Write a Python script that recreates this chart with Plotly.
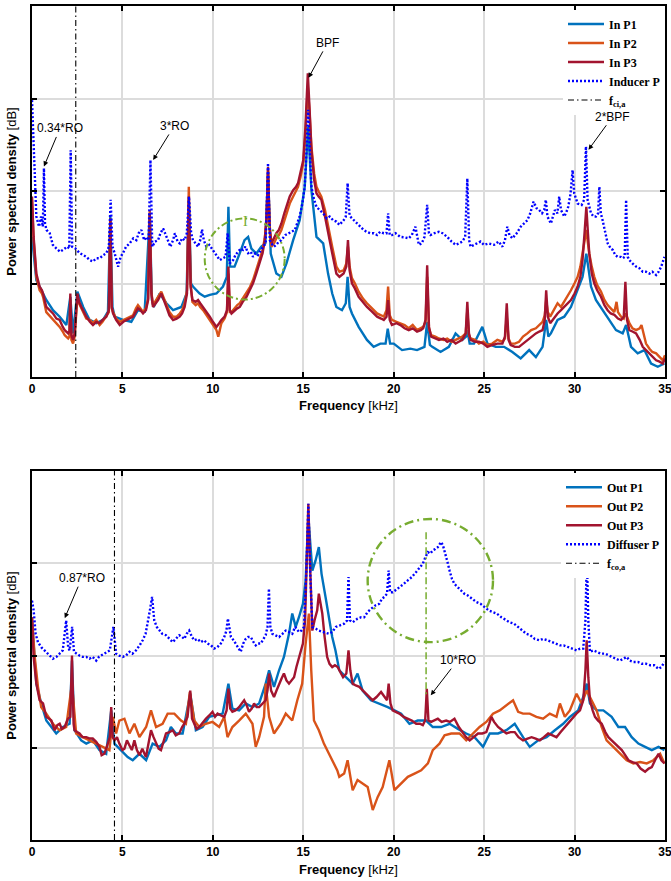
import plotly.graph_objects as go

# ---------------- Inlet (inducer) spectra ----------------
in_p1_f = [0.00, 0.24, 0.52, 0.79, 1.16, 1.53, 1.9, 2.12, 2.27, 2.51, 2.83, 3.19, 3.56, 3.93, 4.2, 4.33, 4.45, 4.57,
           5.03, 5.49, 5.86, 6.23, 6.51, 6.63, 6.73, 7.06, 7.43, 7.8, 8.26, 8.55, 8.67, 8.79, 8.9, 9.27, 9.55, 9.83,
           10.2, 10.56, 10.77, 10.86, 10.95, 11.2, 11.48, 11.75, 11.95, 12.13, 12.4, 12.68, 12.9, 13.05, 13.2, 13.51,
           13.79, 14.07, 14.44, 14.8, 15.08, 15.27, 15.45, 15.73, 16.1, 16.37, 16.6, 16.83, 17.14, 17.35, 17.45,
           17.56, 17.69, 18.06, 18.52, 18.89, 19.26, 19.55, 19.67, 19.8, 20.0, 20.46, 20.92, 21.29, 21.7, 21.85,
           22.0, 22.13, 22.59, 23.05, 23.42, 23.79, 24.0, 24.07, 24.2, 24.44, 24.9, 25.18, 25.64, 26.1, 26.56,
           27.02, 27.49, 27.86, 28.23, 28.43, 28.55, 28.69, 29.06, 29.43, 29.8, 30.17, 30.44, 30.65, 30.91, 31.18,
           31.55, 31.92, 32.29, 32.66, 32.85, 33.12, 33.49, 33.86, 34.23, 34.6, 34.97]
in_p1_db = [-89.8, -99.1, -101.3, -103.4, -105.6, -107.0, -108.8, -102.7, -110.6, -101.6, -104.9, -107.7, -108.4,
            -107.7, -105.9, -85.4, -104.9, -107.0, -107.7, -108.1, -105.6, -105.9, -85.1, -103.4, -104.9, -102.0,
            -104.1, -105.6, -104.9, -102.0, -81.8, -99.8, -100.5, -102.0, -102.7, -102.3, -102.0, -100.5, -98.4,
            -83.3, -96.2, -96.2, -93.4, -90.5, -89.8, -92.3, -93.4, -91.9, -91.2, -76.1, -93.4, -97.7, -98.4, -95.5,
            -90.5, -86.2, -79.0, -66.0, -79.7, -89.8, -91.2, -97.7, -102.0, -104.9, -105.6, -104.1, -98.4, -104.9,
            -106.3, -109.2, -112.0, -113.5, -112.8, -112.8, -109.6, -112.8, -112.8, -114.2, -113.9, -114.2, -113.5,
            -108.1, -113.1, -113.5, -114.6, -113.5, -110.6, -112.0, -111.3, -109.9, -112.8, -112.8, -109.2, -112.8,
            -113.5, -113.5, -114.6, -116.0, -114.2, -115.7, -113.5, -107.7, -111.3, -110.6, -107.7, -107.0, -104.9,
            -101.3, -98.4, -93.4, -100.5, -103.4, -105.6, -107.7, -109.9, -110.6, -108.8, -113.5, -114.9, -114.2,
            -117.1, -117.8, -117.1]

in_p2_f = [0.00, 0.09, 0.24, 0.42, 0.55, 0.61, 0.79, 0.95, 1.16, 1.35, 1.53, 1.7, 1.81, 2.00, 2.07, 2.12, 2.18, 2.27,
           2.36, 2.51, 2.6, 2.73, 2.85, 3.00, 3.2, 3.37, 3.55, 3.74, 3.9, 4.11, 4.25, 4.33, 4.41, 4.48, 4.65, 4.85,
           5.05, 5.22, 5.4, 5.59, 5.75, 5.86, 6.0, 6.14, 6.3, 6.42, 6.51, 6.60, 6.69, 6.85, 6.97, 7.15, 7.3, 7.43,
           7.6, 7.80, 8.0, 8.17, 8.3, 8.44, 8.57, 8.67, 8.77, 8.87, 9.05, 9.18, 9.3, 9.46, 9.65, 9.83, 10.0, 10.2,
           10.3, 10.4, 10.47, 10.65, 10.78, 10.86, 10.94, 11.03, 11.2, 11.35, 11.49, 11.65, 11.86, 12.05, 12.22,
           12.4, 12.59, 12.75, 12.87, 12.97, 13.05, 13.14, 13.24, 13.38, 13.51, 13.65, 13.79, 13.95, 14.07, 14.25,
           14.44, 14.6, 14.71, 14.85, 15.0, 15.12, 15.25, 15.35, 15.45, 15.6, 15.73, 15.85, 16.0, 16.2, 16.37,
           16.6, 16.83, 17.0, 17.23, 17.38, 17.47, 17.56, 17.69, 17.85, 18.06, 18.3, 18.52, 18.8, 19.08, 19.3,
           19.45, 19.6, 19.69, 19.78, 19.90, 20.15, 20.37, 20.6, 20.83, 21.05, 21.29, 21.5, 21.63, 21.76, 21.85,
           21.95, 22.07, 22.3, 22.5, 22.75, 22.96, 23.2, 23.42, 23.6, 23.79, 23.98, 24.07, 24.16, 24.25, 24.5,
           24.71, 24.95, 25.18, 25.45, 25.73, 26.01, 26.15, 26.25, 26.35, 26.47, 26.7, 26.93, 27.15, 27.39, 27.6,
           27.86, 28.05, 28.23, 28.35, 28.43, 28.52, 28.65, 28.85, 29.06, 29.25, 29.43, 29.6, 29.8, 30.0, 30.17,
           30.32, 30.44, 30.55, 30.65, 30.74, 30.81, 30.95, 31.09, 31.25, 31.46, 31.65, 31.83, 32.0, 32.2, 32.32,
           32.4, 32.57, 32.72, 32.81, 32.9, 33.03, 33.2, 33.4, 33.6, 33.7, 33.85, 33.95, 34.14, 34.3, 34.51, 34.7,
           34.88, 35.0]
in_p2_db = [-81.8, -90.5, -98.4, -101.3, -102.0, -102.7, -106.0, -106.7, -107.4, -108.4, -109.2, -110.2, -111.0,
            -111.7, -111.3, -103.4, -112.0, -112.8, -111.3, -102.7, -104.1, -105.2, -106.3, -107.4, -107.7, -108.4,
            -107.7, -108.8, -108.1, -106.7, -106.0, -86.2, -105.2, -106.0, -107.4, -108.1, -107.7, -107.4, -107.0,
            -106.7, -105.2, -104.5, -105.2, -106.0, -105.2, -103.1, -84.0, -101.6, -104.5, -103.4, -102.7, -101.6,
            -103.1, -104.5, -106.0, -107.0, -107.0, -106.3, -105.6, -104.1, -101.3, -79.0, -99.8, -103.8, -104.5,
            -104.1, -104.9, -105.6, -106.7, -107.7, -108.8, -109.9, -111.3, -109.5, -108.4, -107.4, -106.0, -97.7,
            -106.0, -106.0, -105.2, -104.5, -104.1, -103.1, -102.0, -100.6, -99.1, -97.0, -94.8, -92.6, -90.1,
            -86.2, -75.4, -88.3, -91.9, -91.2, -90.1, -89.4, -88.3, -86.2, -84.7, -82.6, -81.1, -80.0, -79.0, -76.8,
            -73.9, -67.5, -57.4, -63.2, -70.3, -76.1, -79.0, -80.0, -81.1, -84.0, -87.6, -91.9, -96.2, -97.3, -97.0,
            -95.5, -91.9, -96.2, -98.7, -99.8, -101.6, -103.1, -104.1, -105.2, -106.3, -106.7, -107.0, -105.6,
            -100.5, -106.7, -107.7, -108.1, -108.4, -108.8, -109.5, -108.8, -109.9, -109.5, -109.2, -108.1, -98.4,
            -109.5, -111.0, -111.3, -111.7, -112.0, -111.7, -112.4, -112.0, -111.7, -111.3, -110.6, -105.6, -111.0,
            -111.7, -112.0, -112.8, -112.4, -113.1, -112.8, -112.0, -112.4, -111.7, -107.0, -111.7, -112.8, -112.8,
            -112.4, -111.3, -110.6, -109.9, -109.5, -108.8, -108.1, -106.7, -103.4, -106.0, -107.0, -105.6, -104.1,
            -104.9, -103.8, -102.7, -101.3, -99.8, -98.4, -96.2, -93.3, -90.5, -88.3, -91.2, -93.3, -96.2, -98.4,
            -100.2, -101.6, -103.4, -104.5, -105.2, -106.0, -103.8, -106.0, -107.0, -107.4, -106.3, -107.0, -108.4,
            -109.5, -109.9, -109.5, -108.8, -111.3, -112.8, -113.9, -114.6, -114.9, -115.7, -116.4, -115.3]

in_p3_f = [0.00, 0.09, 0.24, 0.42, 0.55, 0.61, 0.79, 0.95, 1.16, 1.35, 1.53, 1.7, 1.81, 2.00, 2.07, 2.12, 2.18, 2.27,
           2.36, 2.51, 2.6, 2.73, 2.85, 3.00, 3.2, 3.37, 3.55, 3.74, 3.9, 4.11, 4.25, 4.33, 4.41, 4.48, 4.65, 4.85,
           5.05, 5.22, 5.4, 5.59, 5.75, 5.86, 6.0, 6.14, 6.3, 6.42, 6.51, 6.60, 6.69, 6.85, 6.97, 7.15, 7.3, 7.43,
           7.6, 7.80, 8.0, 8.17, 8.3, 8.44, 8.57, 8.67, 8.77, 8.87, 9.05, 9.18, 9.3, 9.46, 9.65, 9.83, 10.0, 10.2,
           10.35, 10.47, 10.65, 10.78, 10.86, 10.94, 11.03, 11.2, 11.35, 11.49, 11.65, 11.86, 12.05, 12.22, 12.4,
           12.59, 12.75, 12.87, 12.97, 13.05, 13.14, 13.24, 13.38, 13.51, 13.65, 13.79, 13.95, 14.07, 14.25, 14.44,
           14.6, 14.71, 14.85, 15.0, 15.12, 15.25, 15.35, 15.45, 15.6, 15.73, 15.85, 16.0, 16.2, 16.37, 16.6, 16.83,
           17.0, 17.23, 17.38, 17.47, 17.56, 17.69, 17.85, 18.06, 18.3, 18.52, 18.8, 19.08, 19.3, 19.45, 19.6,
           19.69, 19.78, 19.90, 20.15, 20.37, 20.6, 20.83, 21.05, 21.29, 21.5, 21.63, 21.76, 21.85, 21.95, 22.07,
           22.3, 22.5, 22.75, 22.96, 23.2, 23.42, 23.6, 23.79, 23.98, 24.07, 24.16, 24.25, 24.5, 24.71, 24.95,
           25.18, 25.45, 25.73, 26.01, 26.15, 26.25, 26.35, 26.47, 26.7, 26.93, 27.15, 27.39, 27.6, 27.86, 28.05,
           28.23, 28.35, 28.43, 28.52, 28.65, 28.85, 29.06, 29.25, 29.43, 29.6, 29.8, 30.0, 30.17, 30.32, 30.44,
           30.55, 30.65, 30.74, 30.81, 30.95, 31.09, 31.25, 31.46, 31.65, 31.83, 32.0, 32.2, 32.4, 32.57, 32.72,
           32.81, 32.9, 33.03, 33.2, 33.4, 33.6, 33.77, 33.95, 34.14, 34.3, 34.51, 34.7, 34.88, 35.0]
in_p3_db = [-81.1, -89.8, -97.7, -100.5, -101.3, -102.0, -104.9, -105.6, -106.3, -107.4, -107.7, -109.2, -109.9,
            -110.6, -110.2, -102.0, -111.0, -112.0, -110.6, -102.0, -103.8, -104.9, -105.9, -107.0, -108.1, -108.8,
            -108.1, -108.4, -107.7, -107.0, -105.6, -85.8, -104.9, -106.3, -107.7, -108.8, -108.1, -107.7, -107.4,
            -107.0, -105.9, -105.2, -105.6, -106.3, -105.6, -103.4, -84.7, -102.0, -104.9, -104.1, -103.4, -102.0,
            -103.4, -104.9, -106.7, -107.7, -107.4, -107.0, -106.3, -104.9, -102.0, -81.1, -100.5, -103.4, -103.8,
            -103.4, -104.1, -104.9, -105.9, -107.0, -108.1, -109.2, -108.4, -107.7, -107.0, -105.6, -96.2, -105.6,
            -106.3, -105.6, -105.2, -104.9, -103.8, -102.7, -101.3, -99.8, -97.7, -95.5, -93.3, -90.5, -85.5, -74.7,
            -87.6, -91.2, -90.1, -89.0, -88.3, -86.9, -84.7, -83.3, -81.1, -79.7, -79.0, -78.2, -76.1, -73.2, -66.0,
            -54.5, -62.4, -71.1, -77.5, -80.4, -81.1, -81.8, -85.4, -89.0, -93.3, -97.7, -98.4, -97.7, -96.2, -90.5,
            -97.0, -99.8, -100.9, -102.7, -103.8, -104.9, -105.9, -107.0, -107.4, -107.7, -107.0, -103.4, -107.7,
            -108.8, -108.4, -108.8, -109.5, -109.9, -109.5, -110.2, -109.9, -109.5, -107.7, -95.9, -109.2, -111.3,
            -111.7, -112.0, -111.7, -112.4, -112.0, -112.8, -112.4, -112.0, -110.6, -103.8, -110.6, -112.0, -112.4,
            -112.4, -112.8, -113.5, -113.1, -112.8, -112.8, -111.3, -104.1, -112.0, -113.1, -113.5, -113.5, -112.8,
            -112.0, -111.3, -110.6, -110.2, -109.9, -107.7, -101.3, -107.0, -108.4, -107.4, -106.3, -105.6, -104.9,
            -104.1, -103.4, -102.0, -100.5, -98.4, -94.8, -89.0, -83.3, -89.0, -93.3, -97.7, -99.8, -101.3, -102.7,
            -104.5, -105.6, -106.3, -106.6, -107.4, -107.7, -107.0, -99.5, -107.7, -109.9, -110.2, -110.6, -112.0,
            -113.5, -114.2, -114.9, -115.6, -116.4, -116.7, -117.1, -116.0]

inducer_f = [0.00, 0.15, 0.24, 0.39, 0.5, 0.60, 0.66, 0.72, 0.80, 0.98, 1.15, 1.35, 1.55, 1.71, 1.95, 2.06, 2.14, 2.22,
             2.40, 2.64, 2.85, 3.00, 3.2, 3.37, 3.55, 3.74, 3.95, 4.11, 4.25, 4.35, 4.45, 4.57, 4.76, 4.90, 5.03, 5.2,
             5.40, 5.6, 5.77, 5.9, 6.05, 6.2, 6.32, 6.45, 6.55, 6.65, 6.80, 6.97, 7.1, 7.25, 7.40, 7.52, 7.65, 7.80,
             7.90, 8.05, 8.17, 8.30, 8.44, 8.56, 8.68, 8.80, 8.90, 9.05, 9.18, 9.30, 9.40, 9.50, 9.64, 9.80, 10.01,
             10.2, 10.38, 10.56, 10.70, 10.82, 10.93, 11.12, 11.25, 11.39, 11.55, 11.67, 11.80, 11.95, 12.10, 12.22,
             12.35, 12.50, 12.65, 12.78, 12.92, 13.05, 13.15, 13.24, 13.38, 13.51, 13.65, 13.79, 14.0, 14.16, 14.35,
             14.53, 14.70, 14.80, 14.95, 15.08, 15.18, 15.27, 15.36, 15.45, 15.60, 15.73, 15.9, 16.10, 16.3, 16.46,
             16.65, 16.83, 17.0, 17.23, 17.35, 17.45, 17.55, 17.60, 17.80, 17.97, 18.15, 18.34, 18.5, 18.70, 18.9,
             19.08, 19.25, 19.45, 19.60, 19.69, 19.78, 19.90, 20.1, 20.37, 20.6, 20.83, 21.0, 21.2, 21.39, 21.55,
             21.7, 21.85, 21.95, 22.03, 22.25, 22.50, 22.7, 22.96, 23.2, 23.42, 23.6, 23.79, 23.95, 24.07, 24.17,
             24.25, 24.45, 24.62, 24.8, 24.99, 25.25, 25.55, 25.8, 26.01, 26.15, 26.28, 26.4, 26.56, 26.8, 27.02,
             27.2, 27.39, 27.55, 27.73, 27.9, 28.04, 28.2, 28.32, 28.41, 28.5, 28.69, 28.8, 28.91, 29.05, 29.15,
             29.25, 29.43, 29.55, 29.65, 29.78, 29.89, 29.98, 30.17, 30.39, 30.53, 30.63, 30.72, 30.91, 31.05,
             31.18, 31.30, 31.37, 31.45, 31.55, 31.7, 31.83, 32.0, 32.11, 32.25, 32.38, 32.55, 32.66, 32.77, 32.85,
             32.94, 33.03, 33.2, 33.4, 33.6, 33.77, 33.95, 34.14, 34.3, 34.51, 34.65, 34.79, 34.97]
inducer_db = [-60.3, -79.0, -85.4, -87.6, -85.4, -87.6, -75.0, -86.9, -88.3, -89.0, -91.5, -92.3, -93.0, -92.6,
              -91.9, -92.3, -71.1, -91.9, -92.3, -93.3, -93.7, -94.1, -94.8, -95.1, -94.4, -94.4, -93.7, -93.3,
              -91.9, -81.8, -91.9, -93.3, -96.2, -94.1, -93.3, -91.9, -91.2, -90.1, -90.5, -89.0, -88.3, -90.5,
              -89.8, -90.5, -73.2, -91.9, -90.8, -90.5, -89.0, -88.0, -89.4, -90.5, -91.9, -90.5, -89.0, -90.8,
              -91.2, -90.1, -90.5, -89.0, -81.1, -89.0, -90.5, -91.2, -91.9, -90.5, -88.2, -90.5, -91.9, -91.5,
              -92.6, -93.7, -94.8, -94.4, -94.1, -89.0, -95.5, -94.8, -93.7, -93.0, -92.3, -92.6, -91.9, -93.3,
              -93.0, -94.1, -93.3, -93.7, -92.6, -91.9, -91.2, -73.9, -90.5, -91.2, -91.9, -91.5, -90.8, -90.5,
              -89.4, -89.0, -88.7, -88.3, -86.5, -85.4, -82.6, -79.0, -71.1, -62.4, -71.1, -79.0, -81.8, -83.3,
              -84.0, -84.7, -85.8, -85.4, -86.2, -86.5, -87.2, -86.2, -85.4, -78.2, -84.7, -85.4, -86.2, -86.9,
              -87.6, -88.3, -88.7, -89.0, -89.0, -89.4, -88.7, -89.0, -89.0, -84.7, -89.4, -89.4, -89.0, -89.8,
              -89.9, -90.1, -89.4, -87.6, -91.5, -91.2, -89.8, -82.9, -89.0, -89.4, -89.0, -88.7, -89.0, -89.8,
              -90.8, -91.5, -91.2, -90.8, -89.8, -77.2, -90.5, -91.9, -91.5, -91.2, -90.8, -91.5, -91.2, -91.5,
              -90.8, -91.9, -90.5, -87.6, -89.4, -90.1, -89.0, -87.6, -86.9, -86.2, -84.7, -82.2, -83.6, -84.0,
              -84.7, -84.0, -81.8, -85.4, -86.9, -85.4, -84.0, -84.7, -81.1, -84.0, -85.4, -84.4, -83.3, -80.4,
              -75.4, -80.4, -82.6, -82.9, -81.8, -70.3, -81.8, -84.7, -85.4, -85.4, -84.7, -79.0, -84.7, -86.2,
              -89.0, -91.2, -92.3, -92.6, -93.7, -94.1, -94.1, -94.4, -94.1, -81.8, -94.1, -94.8, -95.5, -96.2,
              -96.6, -97.3, -97.3, -97.7, -97.3, -98.0, -97.3, -96.2, -94.1]

f_ci_a = 2.42  # inlet cut-on frequency [kHz]

# ---------------- Outlet (diffuser) spectra ----------------
out_p1_f = [0.00, 0.15, 0.24, 0.51, 0.79, 1.07, 1.34, 1.71, 2.08, 2.21, 2.35, 2.72, 3.0, 3.36, 3.73, 4.1, 4.38, 4.56,
            4.93, 5.29, 5.57, 5.94, 6.31, 6.67, 7.04, 7.41, 7.68, 7.96, 8.33, 8.75, 9.06, 9.43, 9.8, 10.17, 10.54,
            10.86, 11.08, 11.45, 11.82, 12.19, 12.56, 12.92, 13.11, 13.38, 13.66, 13.93, 14.21, 14.39, 14.58, 14.76,
            14.98, 15.13, 15.28, 15.5, 15.68, 15.86, 16.01, 16.23, 16.42, 16.6, 16.78, 16.99, 17.36, 17.73, 18.0,
            18.28, 18.74, 19.2, 19.67, 20.04, 20.41, 20.87, 21.33, 21.79, 22.16, 22.62, 23.09, 23.55, 24.01, 24.47,
            24.94, 25.31, 25.77, 26.23, 26.69, 27.15, 27.52, 27.99, 28.45, 28.91, 29.37, 29.74, 30.2, 30.48, 30.67,
            30.85, 31.22, 31.59, 32.05, 32.42, 32.79, 33.16, 33.53, 33.9, 34.27, 34.64, 34.97]
out_p1_db = [-72.4, -80.3, -86.1, -90.4, -94.1, -95.5, -96.9, -95.5, -94.8, -81.1, -96.2, -98.4, -99.1, -98.4,
             -100.5, -101.3, -91.9, -99.1, -100.5, -102.0, -102.7, -101.3, -102.7, -99.1, -99.8, -98.4, -95.5, -96.9,
             -96.9, -88.3, -96.2, -95.5, -93.3, -93.0, -92.6, -86.1, -91.5, -91.9, -90.4, -91.2, -90.4, -86.1, -83.2,
             -86.8, -83.2, -80.3, -75.3, -70.9, -73.8, -71.7, -68.8, -63.7, -50.0, -61.6, -59.4, -56.5, -62.3, -67.3,
             -71.7, -76.0, -78.9, -83.2, -84.7, -86.1, -83.9, -87.6, -89.7, -90.4, -91.2, -91.9, -92.6, -94.8, -94.1,
             -94.1, -95.5, -95.5, -94.8, -95.9, -96.9, -97.7, -99.8, -96.9, -96.9, -96.2, -94.8, -97.7, -99.8, -98.4,
             -97.7, -96.2, -94.8, -93.3, -91.9, -89.0, -86.1, -90.4, -91.9, -91.9, -93.3, -95.5, -95.5, -97.7, -99.1,
             -99.8, -100.5, -99.8, -100.5]

out_p2_f = [0.00, 0.15, 0.33, 0.51, 0.79, 1.16, 1.53, 1.89, 2.21, 2.44, 2.81, 3.18, 3.55, 3.92, 4.28, 4.47, 4.65, 4.83,
            5.11, 5.39, 5.66, 5.94, 6.31, 6.58, 6.86, 7.22, 7.5, 7.87, 8.24, 8.51, 8.73, 8.97, 9.25, 9.61, 9.98,
            10.35, 10.63, 10.81, 11.08, 11.45, 11.82, 12.19, 12.37, 12.56, 12.83, 12.92, 13.11, 13.38, 13.75, 14.03,
            14.39, 14.67, 14.94, 15.13, 15.31, 15.44, 15.59, 15.86, 16.14, 16.42, 16.69, 16.88, 16.99, 17.26, 17.45,
            17.73, 18.0, 18.28, 18.56, 18.84, 19.11, 19.39, 19.76, 20.04, 20.41, 20.78, 21.15, 21.52, 21.89, 22.16,
            22.53, 22.81, 23.18, 23.64, 24.01, 24.38, 24.75, 25.12, 25.49, 25.86, 26.23, 26.6, 26.88, 27.15, 27.52,
            27.89, 28.26, 28.63, 29.0, 29.19, 29.46, 29.74, 30.11, 30.39, 30.67, 30.94, 31.22, 31.5, 31.77, 32.14,
            32.51, 32.88, 33.25, 33.62, 33.99, 34.36, 34.73, 34.97]
out_p2_db = [-71.7, -80.3, -86.8, -91.2, -92.6, -94.8, -96.2, -95.5, -86.1, -96.9, -97.7, -98.4, -99.1, -99.8,
             -100.5, -93.3, -96.9, -94.1, -93.7, -96.9, -94.8, -97.7, -95.5, -91.9, -95.5, -94.8, -92.6, -92.6,
             -94.1, -94.8, -87.9, -94.1, -95.5, -94.8, -94.4, -95.5, -93.3, -97.7, -95.5, -94.1, -92.6, -94.8, -99.8,
             -97.7, -93.3, -86.1, -93.3, -96.9, -94.8, -92.6, -94.1, -89.7, -86.1, -77.4, -70.9, -83.2, -94.1, -96.2,
             -99.1, -101.3, -103.4, -104.9, -106.3, -105.6, -102.7, -109.2, -107.0, -107.8, -108.5, -113.5, -110.7,
             -108.5, -102.7, -109.2, -107.8, -106.3, -105.6, -104.9, -103.4, -100.5, -99.1, -97.3, -96.9, -96.9,
             -98.4, -96.9, -95.5, -94.4, -92.6, -91.9, -90.8, -89.7, -92.2, -92.6, -92.6, -93.3, -93.7, -92.6, -93.3,
             -90.4, -93.3, -91.9, -88.3, -90.4, -87.6, -89.7, -91.9, -95.5, -98.4, -99.8, -101.3, -102.7, -103.4,
             -103.1, -103.4, -102.7, -101.3, -103.4]

out_p3_f = [0.00, 0.09, 0.24, 0.42, 0.61, 0.79, 0.95, 1.07, 1.25, 1.4, 1.53, 1.65, 1.8, 1.99, 2.12, 2.21, 2.3, 2.35,
            2.5, 2.63, 2.8, 3.0, 3.2, 3.36, 3.55, 3.73, 3.85, 4.0, 4.19, 4.3, 4.38, 4.46, 4.56, 4.7, 4.83, 5.0, 5.11,
            5.25, 5.39, 5.52, 5.66, 5.8, 5.94, 6.1, 6.3, 6.45, 6.58, 6.72, 6.86, 7.0, 7.13, 7.27, 7.41, 7.6, 7.78,
            7.95, 8.14, 8.3, 8.42, 8.6, 8.75, 8.85, 8.97, 9.1, 9.25, 9.45, 9.61, 9.8, 9.98, 10.12, 10.26, 10.45,
            10.63, 10.76, 10.86, 10.96, 11.08, 11.25, 11.45, 11.6, 11.73, 11.87, 12.0, 12.15, 12.28, 12.42, 12.56,
            12.75, 12.92, 13.02, 13.11, 13.22, 13.38, 13.52, 13.66, 13.8, 13.93, 14.07, 14.21, 14.35, 14.49, 14.62,
            14.76, 14.88, 14.98, 15.1, 15.2, 15.28, 15.36, 15.45, 15.5, 15.62, 15.77, 15.86, 15.95, 16.05, 16.18,
            16.32, 16.45, 16.6, 16.75, 16.9, 17.05, 17.2, 17.38, 17.5, 17.6, 17.73, 17.9, 18.1, 18.3, 18.47, 18.65,
            18.84, 19.05, 19.3, 19.5, 19.63, 19.72, 19.82, 19.94, 20.1, 20.31, 20.55, 20.78, 21.0, 21.24, 21.45,
            21.61, 21.74, 21.83, 21.92, 22.07, 22.25, 22.44, 22.65, 22.9, 23.1, 23.36, 23.6, 23.83, 24.0, 24.2,
            24.4, 24.66, 24.9, 25.12, 25.28, 25.4, 25.55, 25.77, 26.0, 26.23, 26.45, 26.69, 26.9, 27.15, 27.4,
            27.62, 27.85, 28.08, 28.3, 28.54, 28.78, 29.0, 29.23, 29.46, 29.7, 29.93, 30.1, 30.3, 30.48, 30.6,
            30.67, 30.76, 30.85, 31.0, 31.13, 31.3, 31.5, 31.7, 31.87, 32.05, 32.24, 32.42, 32.61, 32.8, 32.98,
            33.2, 33.44, 33.65, 33.9, 34.1, 34.27, 34.45, 34.64, 34.8, 34.97]
out_p3_db = [-71.7, -80.3, -86.1, -89.7, -90.4, -93.3, -93.7, -94.1, -96.2, -95.1, -94.8, -95.9, -95.5, -93.7,
             -93.3, -80.0, -94.8, -96.2, -96.6, -96.9, -97.7, -97.7, -98.0, -98.0, -98.7, -99.8, -101.6, -101.3,
             -99.1, -97.7, -91.2, -97.7, -98.4, -97.7, -99.1, -100.5, -100.2, -98.4, -99.5, -100.5, -98.4, -100.5,
             -101.6, -100.2, -102.0, -99.1, -96.2, -97.7, -99.1, -100.2, -100.5, -98.7, -96.9, -96.6, -96.2, -97.3,
             -96.9, -95.5, -94.8, -93.3, -87.6, -93.7, -94.8, -95.9, -95.5, -94.4, -93.7, -93.0, -92.2, -93.3, -92.6,
             -93.0, -93.3, -91.9, -87.2, -91.5, -92.2, -91.9, -91.2, -90.4, -89.7, -90.8, -92.2, -91.5, -90.4,
             -91.2, -91.2, -90.4, -89.7, -87.6, -83.9, -87.6, -89.0, -87.6, -86.1, -85.0, -83.9, -85.4, -86.1, -85.4,
             -84.7, -82.5, -80.3, -78.9, -77.4, -72.4, -57.9, -47.1, -58.7, -70.2, -74.6, -72.4, -70.2, -66.6, -68.8,
             -70.9, -76.0, -80.3, -81.8, -82.5, -82.1, -82.5, -83.6, -84.7, -83.9, -78.9, -83.2, -86.1, -86.5, -86.8,
             -87.6, -88.3, -89.0, -89.7, -89.0, -87.9, -89.0, -89.7, -86.1, -90.4, -91.9, -92.2, -92.6, -93.3, -93.7,
             -94.1, -94.8, -94.8, -95.1, -94.1, -87.2, -94.1, -94.4, -94.1, -93.7, -94.4, -94.1, -94.4, -93.7, -95.5,
             -96.9, -97.7, -98.4, -97.7, -96.9, -96.9, -96.6, -94.8, -93.3, -94.4, -95.5, -96.2, -96.9, -96.6, -96.6,
             -97.7, -98.4, -98.0, -97.7, -98.0, -98.4, -97.7, -96.9, -97.3, -97.7, -96.6, -95.5, -94.4, -93.3, -92.6,
             -91.9, -89.7, -83.2, -76.7, -84.7, -89.7, -91.9, -93.3, -94.1, -94.8, -96.6, -97.7, -98.4, -99.1, -99.8,
             -100.5, -101.6, -102.7, -103.1, -103.4, -104.5, -105.2, -104.5, -104.2, -102.7, -101.3, -102.7, -103.4]

diffuser_f = [0.00, 0.09, 0.2, 0.33, 0.51, 0.79, 1.0, 1.16, 1.35, 1.53, 1.7, 1.89, 2.0, 2.08, 2.22, 2.32, 2.44, 2.62,
              2.81, 3.0, 3.18, 3.35, 3.55, 3.7, 3.82, 4.0, 4.1, 4.3, 4.5, 4.65, 4.8, 5.02, 5.2, 5.39, 5.55, 5.75,
              5.95, 6.12, 6.28, 6.4, 6.52, 6.64, 6.76, 6.9, 7.04, 7.2, 7.41, 7.6, 7.78, 7.95, 8.14, 8.3, 8.42, 8.55,
              8.69, 8.85, 8.97, 9.15, 9.34, 9.5, 9.71, 9.9, 10.07, 10.25, 10.44, 10.63, 10.75, 10.83, 10.92, 11.0,
              11.15, 11.27, 11.4, 11.54, 11.68, 11.82, 11.95, 12.1, 12.25, 12.37, 12.5, 12.65, 12.8, 12.92, 13.02,
              13.1, 13.18, 13.29, 13.45, 13.66, 13.85, 14.03, 14.2, 14.39, 14.55, 14.76, 14.9, 15.04, 15.17, 15.28,
              15.38, 15.5, 15.7, 15.86, 16.1, 16.42, 16.6, 16.8, 17.0, 17.26, 17.42, 17.5, 17.58, 17.73, 18.0, 18.2,
              18.37, 18.55, 18.74, 19.0, 19.2, 19.35, 19.48, 19.63, 19.72, 19.8, 19.95, 20.1, 20.31, 20.55, 20.78,
              21.0, 21.24, 21.45, 21.61, 21.75, 21.89, 22.02, 22.16, 22.3, 22.44, 22.55, 22.62, 22.72, 22.81, 22.95,
              23.09, 23.22, 23.36, 23.55, 23.73, 23.9, 24.1, 24.35, 24.57, 24.8, 25.03, 25.25, 25.49, 25.7, 25.95,
              26.2, 26.41, 26.65, 26.88, 27.1, 27.34, 27.55, 27.8, 28.05, 28.26, 28.5, 28.72, 28.95, 29.19, 29.4,
              29.65, 29.9, 30.11, 30.3, 30.48, 30.6, 30.68, 30.76, 30.85, 31.05, 31.22, 31.45, 31.68, 31.9, 32.14,
              32.3, 32.51, 32.7, 32.88, 33.05, 33.25, 33.5, 33.72, 33.95, 34.18, 34.4, 34.64, 34.8, 34.97]
diffuser_db = [-68.1, -70.2, -75.3, -77.1, -78.2, -79.2, -80.0, -80.7, -80.3, -79.6, -78.9, -72.4, -78.2, -78.9,
               -73.8, -79.2, -79.6, -80.0, -80.3, -80.3, -80.7, -80.3, -81.1, -80.3, -80.0, -79.6, -79.2, -78.9,
               -73.8, -79.6, -80.0, -80.3, -80.0, -79.2, -79.6, -78.9, -77.8, -76.7, -75.3, -73.1, -70.2, -67.3,
               -72.4, -73.8, -74.6, -75.3, -75.6, -76.4, -77.1, -76.4, -75.6, -76.0, -76.4, -75.3, -74.6, -76.0,
               -76.7, -76.4, -77.1, -76.7, -77.4, -77.8, -78.5, -78.2, -77.4, -76.0, -74.6, -72.0, -74.6, -76.0,
               -76.7, -77.4, -78.2, -79.2, -77.4, -76.4, -76.0, -76.0, -77.1, -77.8, -77.4, -77.4, -76.4, -75.6,
               -73.8, -65.5, -73.8, -75.3, -75.6, -76.0, -75.3, -74.6, -74.9, -75.3, -73.8, -74.9, -74.6, -73.8,
               -61.6, -47.1, -61.6, -73.8, -74.2, -74.6, -74.9, -75.3, -74.9, -73.8, -73.5, -73.1, -72.4, -63.0,
               -72.4, -72.8, -72.0, -71.7, -71.7, -70.6, -69.9, -69.1, -68.8, -67.7, -67.3, -66.6, -61.6, -66.3,
               -66.3, -65.9, -65.2, -64.5, -63.7, -63.0, -61.9, -60.8, -60.1, -58.7, -57.6, -57.9, -57.2, -56.9,
               -56.5, -55.8, -55.4, -56.1, -57.2, -59.4, -61.6, -63.4, -64.5, -65.2, -65.9, -66.6, -67.0, -67.7,
               -68.4, -68.8, -69.5, -70.2, -70.6, -70.9, -71.7, -72.4, -72.8, -73.1, -73.8, -74.6, -75.3, -75.6,
               -76.4, -76.7, -76.4, -76.7, -77.1, -77.4, -77.8, -77.8, -78.2, -78.5, -78.9, -78.5, -78.5, -72.4,
               -58.3, -72.4, -79.2, -78.9, -79.2, -79.6, -79.6, -80.0, -80.3, -80.7, -81.1, -80.7, -80.3, -81.1,
               -81.4, -81.4, -81.8, -81.8, -82.1, -82.1, -82.9, -82.5, -81.4]

f_co_a = 4.56  # outlet cut-on frequency [kHz]

# ---------------- Style ----------------
C_P1, C_P2, C_P3, C_PROBE = "#0072BD", "#D95319", "#A2142F", "#0000FF"
GREEN = "#77AC30"
Y_MIN, Y_MAX = -120, -40
TOP_DOM = [0.5721, 0.9932]
BOT_DOM = [0.0465, 0.4654]

fig = go.Figure()


def add_panel(xa, ya, legend, names, series, probe, cut):
    for (f, v), name, col in zip(series, names[:3], (C_P1, C_P2, C_P3)):
        fig.add_trace(go.Scatter(x=f, y=v, mode="lines", name=name, xaxis=xa, yaxis=ya, legend=legend,
                                 line=dict(color=col, width=2.4)))
    fig.add_trace(go.Scatter(x=probe[0], y=probe[1], mode="lines", name=names[3], xaxis=xa, yaxis=ya,
                             legend=legend, line=dict(color=C_PROBE, width=2.4, dash="2px,2px")))
    fig.add_trace(go.Scatter(x=[cut, cut], y=[Y_MIN, Y_MAX], mode="lines", name=names[4], xaxis=xa, yaxis=ya,
                             legend=legend, line=dict(color="black", width=1.1, dash="6px,3px,1.5px,3px")))


add_panel("x", "y", "legend", ["In P1", "In P2", "In P3", "Inducer P", "<b>f<sub>ci,a</sub></b>"],
          [(in_p1_f, in_p1_db), (in_p2_f, in_p2_db), (in_p3_f, in_p3_db)], (inducer_f, inducer_db), f_ci_a)
add_panel("x2", "y2", "legend2", ["Out P1", "Out P2", "Out P3", "Diffuser P", "<b>f<sub>co,a</sub></b>"],
          [(out_p1_f, out_p1_db), (out_p2_f, out_p2_db), (out_p3_f, out_p3_db)], (diffuser_f, diffuser_db), f_co_a)

# green marker line at the diffuser hump
fig.add_trace(go.Scatter(x=[21.79, 21.79], y=[-53.3, -89.0], mode="lines", showlegend=False,
                         xaxis="x2", yaxis="y2", line=dict(color=GREEN, width=1.5, dash="7px,3px,2px,3px")))

xaxis_style = dict(range=[0, 35], dtick=5, tick0=0, showgrid=True, gridcolor="#dcdcdc", gridwidth=1.5,
                   zeroline=False, showline=True, linecolor="black", linewidth=2, mirror="ticks",
                   ticks="inside", ticklen=5, tickwidth=1.5, tickcolor="black", ticklabeloverflow="allow",
                   tickfont=dict(family="Liberation Sans", size=12, color="black", weight="bold"),
                   title=dict(text="<b>Frequency</b> [kHz]", font=dict(family="Liberation Sans", size=13,
                                                                       color="black"), standoff=6),
                   automargin=False)
yaxis_style = dict(range=[Y_MIN, Y_MAX], dtick=20, tick0=Y_MIN, showgrid=True, gridcolor="#dcdcdc", gridwidth=1.5,
                   zeroline=False, showline=True, linecolor="black", linewidth=2, mirror="ticks",
                   ticks="inside", ticklen=5, tickwidth=1.5, tickcolor="black", showticklabels=False,
                   title=dict(text="<b>Power spectral density</b> [dB]",
                              font=dict(family="Liberation Sans", size=13, color="black"), standoff=10),
                   automargin=False)

legend_style = dict(x=1, xanchor="right", yanchor="top", bgcolor="white", borderwidth=0,
                    font=dict(family="Liberation Serif", size=12, color="black", weight="bold"),
                    tracegroupgap=0, itemwidth=36)

arrow = dict(showarrow=True, arrowhead=2, arrowsize=1, arrowwidth=1, arrowcolor="black",
             font=dict(family="Liberation Sans", size=12, color="black"))

annotations = [
    dict(x=0.66, y=-74.6, xref="x", yref="y", text="0.34*RO", ax=16, ay=-38, **arrow),
    dict(x=6.7, y=-73.2, xref="x", yref="y", text="3*RO", ax=21, ay=-34, **arrow),
    dict(x=15.29, y=-55.5, xref="x", yref="y", text="BPF", ax=19, ay=-35, **arrow),
    dict(x=30.77, y=-71.0, xref="x", yref="y", text="2*BPF", ax=24, ay=-33, **arrow),
    dict(x=1.81, y=-71.9, xref="x2", yref="y2", text="0.87*RO", ax=17, ay=-40, **arrow),
    dict(x=22.05, y=-88.6, xref="x2", yref="y2", text="10*RO", ax=27, ay=-35, **arrow),
    dict(x=11.8, y=-86.5, xref="x", yref="y", text="I", showarrow=False,
         font=dict(family="Liberation Serif", size=14, color=GREEN)),
]

shapes = [
    dict(type="circle", xref="x", yref="y", x0=9.55, x1=13.97, y0=-103.3, y1=-85.8,
         line=dict(color=GREEN, width=2, dash="7px,3px,2px,3px")),
    dict(type="circle", xref="x2", yref="y2", x0=18.56, x1=25.49, y0=-77.1, y1=-50.4,
         line=dict(color=GREEN, width=2.4, dash="9px,4px,2px,4px")),
]

fig.update_layout(
    width=671, height=881, margin=dict(l=32, r=6, t=0, b=0),
    paper_bgcolor="white", plot_bgcolor="white", showlegend=True,
    xaxis=dict(domain=[0, 1], anchor="y", **xaxis_style),
    yaxis=dict(domain=TOP_DOM, anchor="x", **yaxis_style),
    xaxis2=dict(domain=[0, 1], anchor="y2", **xaxis_style),
    yaxis2=dict(domain=BOT_DOM, anchor="x2", **yaxis_style),
    legend=dict(y=TOP_DOM[1] - 0.004, **legend_style),
    legend2=dict(y=BOT_DOM[1] - 0.002, **legend_style),
    annotations=annotations, shapes=shapes,
)

fig.write_html("out.html")
